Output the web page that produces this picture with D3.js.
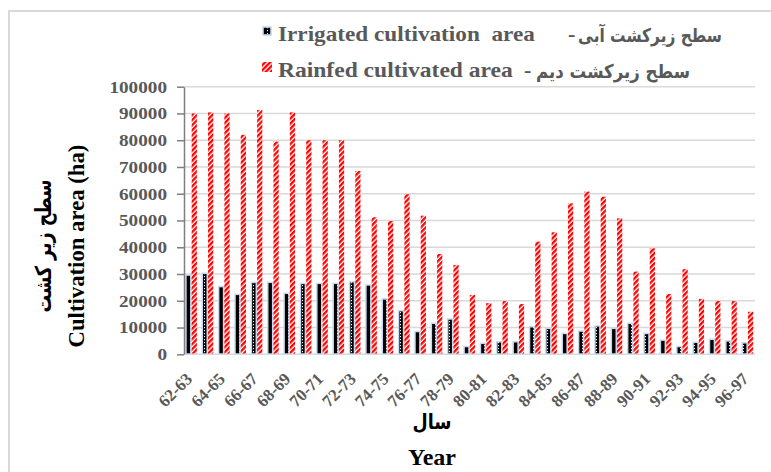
<!DOCTYPE html>
<html><head><meta charset="utf-8">
<script src="https://cdn.jsdelivr.net/npm/d3@7"></script>
<style>
html,body{margin:0;padding:0;background:#fff;}
svg{display:block;}
text{font-family:"Liberation Serif","Times New Roman",serif;font-weight:bold;}
.fa{font-family:"DejaVu Sans","Noto Sans",sans-serif;font-weight:bold;}
</style></head>
<body>
<svg id="chart" width="771" height="472"></svg>
<script>
const years = ["62-63","63-64","64-65","65-66","66-67","67-68","68-69","69-70","70-71","71-72",
  "72-73","73-74","74-75","75-76","76-77","77-78","78-79","79-80","80-81","81-82",
  "82-83","83-84","84-85","85-86","86-87","87-88","88-89","89-90","90-91","91-92",
  "92-93","93-94","94-95","95-96","96-97"];
const irrigated = [29600,30300,25300,22400,26900,26900,22800,26500,26500,26500,
  27100,25900,20700,16300,8500,11600,13200,2900,4100,4700,
  4700,10300,9700,7800,8700,10600,9700,11600,7800,5300,
  2900,4500,5600,5000,4300];
const rainfed = [90000,90400,90000,82000,91300,79500,90400,80000,80000,80000,
  68500,51200,49800,59800,51800,37500,33400,22200,19100,19900,
  18800,42100,45600,56400,60800,58900,50800,30900,39600,22500,
  31800,20700,19900,19900,15900];
const yTicks = [0,10000,20000,30000,40000,50000,60000,70000,80000,90000,100000];
const seriesKeys = ["irr","rain"];
const legendEn = ["Irrigated cultivation  area","Rainfed cultivated area"];
const legendFa = ["سطح زیرکشت آبی","سطح زیرکشت دیم"];
const yTitleEn = "Cultivation area (ha)";
const yTitleFa = "سطح زیر کشت";
const xTitleFa = "سال";
const xTitleEn = "Year";

const svg = d3.select("#chart");
const defs = svg.append("defs");

// patterns
const pr = defs.append("pattern").attr("id","hatch").attr("patternUnits","userSpaceOnUse")
  .attr("width",3.6).attr("height",3.6).attr("patternTransform","rotate(45)");
pr.append("rect").attr("width",3.6).attr("height",3.6).attr("fill","#fff");
pr.append("rect").attr("width",2.3).attr("height",3.6).attr("fill","#ff0000");

const pb = defs.append("pattern").attr("id","dots").attr("patternUnits","userSpaceOnUse")
  .attr("width",7).attr("height",3);
pb.append("rect").attr("width",7).attr("height",3).attr("fill","#000");
pb.append("rect").attr("x",1).attr("y",0).attr("width",1).attr("height",1.2).attr("fill","#fff");

// frame
svg.append("rect").attr("x",9).attr("y",11).attr("width",800).attr("height",500)
  .attr("fill","none").attr("stroke","#d9d9d9").attr("stroke-width",2);

const L = 184, R = 755, T = 86.7, B = 354.3;
const y = d3.scaleLinear().domain([0,100000]).range([B,T]);
const x0 = d3.scaleBand().domain(years).range([L,R]).paddingInner(0.3).paddingOuter(0.1);
const x1 = d3.scaleBand().domain(seriesKeys).range([0,x0.bandwidth()]);

// gridlines
svg.append("g").selectAll("line").data(yTicks.filter(d=>d>0)).join("line")
  .attr("x1",L).attr("x2",R).attr("y1",d=>y(d)).attr("y2",d=>y(d))
  .attr("stroke","#d9d9d9").attr("stroke-width",1.5);

// bars
const g = svg.append("g");
g.selectAll("rect.irr").data(years).join("rect").attr("class","irr")
  .attr("x",(d)=>x0(d)+x1("irr")+0.3)
  .attr("y",(d,i)=>y(irrigated[i]))
  .attr("width",x1.bandwidth()-0.8)
  .attr("height",(d,i)=>B-y(irrigated[i]))
  .attr("fill","url(#dots)").attr("stroke","#c6d9f0").attr("stroke-width",1.5);
g.selectAll("rect.rain").data(years).join("rect").attr("class","rain")
  .attr("x",(d)=>x0(d)+x1("rain")+0.3)
  .attr("y",(d,i)=>y(rainfed[i]))
  .attr("width",x1.bandwidth()-0.5)
  .attr("height",(d,i)=>B-y(rainfed[i]))
  .attr("fill","url(#hatch)");

// baseline
svg.append("line").attr("x1",L).attr("x2",R).attr("y1",B).attr("y2",B)
  .attr("stroke","#d0dbe8").attr("stroke-width",1.5);

// y axis
const yAxis = svg.append("g").attr("transform",`translate(${L},0)`)
  .call(d3.axisLeft(y).tickValues(yTicks).tickSize(7).tickSizeOuter(0).tickPadding(10).tickFormat(d3.format("d")));
yAxis.select(".domain").attr("stroke","#7f7f7f").attr("stroke-width",1.5);
yAxis.selectAll(".tick line").attr("stroke","#7f7f7f").attr("stroke-width",1.5);
yAxis.selectAll(".tick text").attr("fill","#595959").attr("font-size",17)
  .attr("font-family","Liberation Serif").attr("font-weight","bold");
yAxis.selectAll(".tick text").each(function(){
  const t = d3.select(this);
  const xx = +t.attr("x");
  t.attr("x",0).attr("transform",`translate(${xx},0) scale(1.13,1)`);
});

// x tick labels
const xl = svg.append("g");
xl.selectAll("text").data(years.filter((d,i)=>i%2===0)).join("text")
  .attr("text-anchor","end").attr("fill","#595959").attr("font-size",17)
  .attr("transform",d=>`translate(${x0(d)+x0.bandwidth()/2+2},380) rotate(-45)`)
  .text(d=>d);

function fit(sel, tx, ty, w){
  const bw = sel.node().getComputedTextLength();
  const s = w / bw;
  sel.attr("x",0).attr("y",0).attr("transform",`translate(${tx},${ty}) scale(${s},1)`);
}
function fitRot(sel, tx, ty, w){
  const bw = sel.node().getComputedTextLength();
  const s = w / bw;
  sel.attr("x",0).attr("y",0).attr("transform",`translate(${tx},${ty}) rotate(-90) scale(${s},1)`);
}

// y titles
fitRot(svg.append("text").attr("class","fa").attr("text-anchor","middle").attr("font-size",22)
  .attr("fill","#000").text(yTitleFa), 51, 246, 133);
fitRot(svg.append("text").attr("text-anchor","middle").attr("font-size",22.5)
  .attr("fill","#000").text(yTitleEn), 84, 246, 203);

// x titles
fit(svg.append("text").attr("class","fa").attr("text-anchor","middle").attr("font-size",21)
  .attr("fill","#000").text(xTitleFa), 432, 429, 39);
svg.append("text").attr("text-anchor","middle").attr("font-size",24).attr("x",432).attr("y",465)
  .attr("fill","#000").text(xTitleEn);

// legend
const leg = svg.append("g");
leg.append("rect").attr("x",263).attr("y",27).attr("width",8).attr("height",8)
  .attr("fill","url(#dots)").attr("stroke","#c6d9f0").attr("stroke-width",1.6);
leg.append("rect").attr("x",262).attr("y",62).attr("width",10).attr("height",10)
  .attr("fill","url(#hatch)");
const legY = [41, 77];
const legEnW = [257, 235];
const legFaR = [722, 690];
const legFaW = [144, 154];
const legDashX = [568, 524];
legendEn.forEach((t,i)=>{
  fit(leg.append("text").attr("fill","#595959").attr("font-size",22).style("white-space","pre")
    .text(t), 278, legY[i], legEnW[i]);
  fit(leg.append("text").attr("class","fa").attr("fill","#595959").attr("font-size",19)
    .attr("text-anchor","end").text(legendFa[i]), legFaR[i], legY[i]+1, legFaW[i]);
  leg.append("text").attr("fill","#595959").attr("font-size",22).attr("x",legDashX[i]).attr("y",legY[i]).text("-");
});
</script>
</body></html>
